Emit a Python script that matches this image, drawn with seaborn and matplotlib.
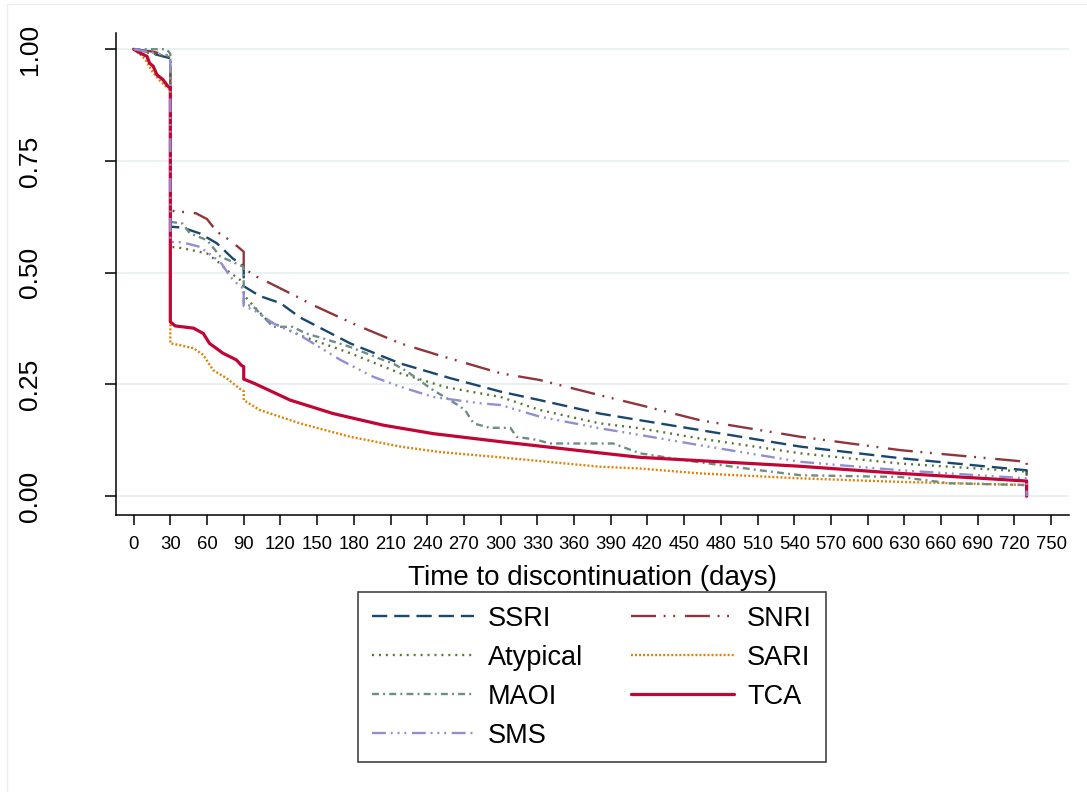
import matplotlib
matplotlib.use("Agg")
import matplotlib.pyplot as plt
from matplotlib.patches import Rectangle
import seaborn as sns
import pandas as pd

# ---------------- data ----------------
ssri_days = [0, 10, 16, 24, 30, 30, 40, 54, 68, 81, 90, 90, 103, 120, 136, 177, 218, 259, 300, 332, 381, 414, 463, 545, 627, 730, 730]
ssri_surv = [1.0, 0.995, 0.99, 0.984, 0.98, 0.603, 0.601, 0.588, 0.566, 0.532, 0.515, 0.47, 0.448, 0.432, 0.40, 0.342, 0.297, 0.264, 0.234, 0.215, 0.185, 0.17, 0.148, 0.111, 0.085, 0.058, 0.0]

snri_days = [0, 15, 30, 30, 51, 60, 68, 80, 90, 90, 103, 109, 136, 144, 182, 218, 250, 300, 332, 381, 414, 463, 545, 627, 730, 730]
snri_surv = [1.0, 0.995, 0.985, 0.639, 0.633, 0.62, 0.592, 0.57, 0.547, 0.51, 0.487, 0.48, 0.443, 0.431, 0.383, 0.342, 0.315, 0.275, 0.26, 0.226, 0.204, 0.17, 0.133, 0.103, 0.077, 0.0]

atyp_days = [0, 16, 30, 30, 40, 60, 71, 76, 87, 90, 90, 100, 109, 136, 177, 218, 255, 300, 332, 381, 414, 463, 545, 627, 730, 730]
atyp_surv = [1.0, 0.99, 0.982, 0.558, 0.555, 0.543, 0.52, 0.506, 0.484, 0.469, 0.45, 0.42, 0.394, 0.36, 0.32, 0.275, 0.244, 0.222, 0.193, 0.163, 0.152, 0.129, 0.096, 0.073, 0.055, 0.0]

sari_days = [0, 5, 10, 15, 22, 28, 30, 30, 38, 49, 57, 65, 76, 87, 90, 90, 103, 136, 177, 218, 250, 300, 381, 414, 463, 545, 627, 730, 730]
sari_surv = [1.0, 0.99, 0.975, 0.951, 0.928, 0.913, 0.91, 0.342, 0.338, 0.331, 0.316, 0.282, 0.264, 0.24, 0.235, 0.215, 0.193, 0.163, 0.133, 0.111, 0.099, 0.087, 0.066, 0.062, 0.051, 0.04, 0.032, 0.025, 0.0]

maoi_days = [0, 27, 30, 30, 40, 46, 60, 71, 87, 90, 90, 98, 114, 130, 141, 155, 177, 201, 212, 223, 245, 261, 271, 275, 278, 291, 308, 313, 330, 340, 392, 403, 414, 449, 512, 545, 627, 667, 730, 730]
maoi_surv = [1.0, 1.0, 0.99, 0.614, 0.61, 0.588, 0.573, 0.536, 0.517, 0.513, 0.43, 0.424, 0.379, 0.379, 0.364, 0.353, 0.334, 0.308, 0.297, 0.28, 0.237, 0.211, 0.193, 0.175, 0.163, 0.153, 0.153, 0.133, 0.126, 0.118, 0.118, 0.107, 0.096, 0.081, 0.058, 0.047, 0.043, 0.029, 0.025, 0.0]

tca_days = [0, 5, 11, 13, 16, 19, 24, 28, 30, 30, 34, 49, 57, 62, 73, 84, 88, 90, 90, 99, 128, 163, 204, 245, 300, 381, 414, 545, 627, 730, 730]
tca_surv = [1.0, 0.992, 0.984, 0.969, 0.962, 0.943, 0.932, 0.917, 0.915, 0.39, 0.381, 0.376, 0.364, 0.342, 0.32, 0.305, 0.293, 0.29, 0.262, 0.252, 0.215, 0.185, 0.159, 0.14, 0.122, 0.097, 0.087, 0.067, 0.051, 0.034, 0.0]

sms_days = [0, 10, 20, 30, 30, 40, 54, 65, 72, 79, 87, 90, 90, 98, 114, 136, 169, 196, 218, 245, 283, 300, 332, 381, 414, 463, 545, 627, 730, 730]
sms_surv = [1.0, 0.995, 0.99, 0.985, 0.569, 0.568, 0.558, 0.536, 0.52, 0.491, 0.469, 0.465, 0.425, 0.417, 0.387, 0.36, 0.305, 0.267, 0.245, 0.222, 0.208, 0.204, 0.178, 0.152, 0.137, 0.114, 0.077, 0.058, 0.04, 0.0]

x_ticks = list(range(0, 751, 30))
y_ticks = [0.0, 0.25, 0.5, 0.75, 1.0]
y_labels = ["0.00", "0.25", "0.50", "0.75", "1.00"]
x_title = "Time to discontinuation (days)"

# draw order (Stata order), legend order handled separately
series = [
    ("SSRI", ssri_days, ssri_surv, "#1a476f", (0, (11, 5)), 1.7),
    ("SNRI", snri_days, snri_surv, "#90353b", (0, (18, 5.5, 1.4, 5.5, 1.4, 7)), 1.7),
    ("Atypical", atyp_days, atyp_surv, "#55752f", (0, (1.4, 3.6)), 1.7),
    ("SARI", sari_days, sari_surv, "#e37e00", (0, (1.4, 1.5)), 1.7),
    ("MAOI", maoi_days, maoi_surv, "#6e8e84", (0, (5, 3, 1.4, 3)), 1.7),
    ("TCA", tca_days, tca_surv, "#c10534", "-", 2.3),
    ("SMS", sms_days, sms_surv, "#938dd2", (0, (10, 3.5, 1.4, 3.5, 1.4, 3.5, 1.4, 4)), 1.7),
]
legend_order = ["SSRI", "Atypical", "MAOI", "SMS", "SNRI", "SARI", "TCA"]

# ---------------- plotting ----------------
sns.set_theme(style="white")
plt.rcParams["font.family"] = ["Liberation Sans", "DejaVu Sans"]
plt.rcParams["lines.scale_dashes"] = False
for k in ["text.color", "axes.labelcolor", "xtick.color", "ytick.color"]:
    plt.rcParams[k] = "black"

fig = plt.figure(figsize=(10.87, 7.92), dpi=100)
ax = fig.add_axes([116 / 1087, 1 - 515 / 792, (1068.6 - 116) / 1087, (515 - 32.7) / 792])

handles = {}
for name, d, s, col, ls, lw in series:
    df = pd.DataFrame({"day": d, "surv": s})
    sns.lineplot(data=df, x="day", y="surv", estimator=None, sort=False, ax=ax,
                 color=col, linestyle=ls, linewidth=lw, label=name, legend=False)
    handles[name] = ax.get_lines()[-1]

ax.set_xlim(-14.4, 764.3)
ax.set_ylim(-0.042, 1.037)
ax.set_xticks(x_ticks)
ax.set_xticklabels([str(t) for t in x_ticks], fontsize=13.3, color="black")
ax.set_yticks(y_ticks)
ax.set_yticklabels(y_labels, fontsize=19, rotation=90, va="center", color="black")
for t in y_ticks:
    ax.axhline(t, color="#e8f0f2", linewidth=1.3, zorder=0)
ax.grid(False)

for sp in ["top", "right"]:
    ax.spines[sp].set_visible(False)
for sp in ["left", "bottom"]:
    ax.spines[sp].set_color("black")
    ax.spines[sp].set_linewidth(1.1)
ax.tick_params(axis="y", direction="out", length=8, width=1.1, color="black", pad=45, left=True)
ax.tick_params(axis="x", direction="out", length=7.5, width=1.1, color="black", pad=7.5, bottom=True)

ax.set_xlabel(x_title, fontsize=20, labelpad=9, color="black")
ax.set_ylabel("")

leg = fig.legend([handles[n] for n in legend_order], legend_order, ncol=2,
                 loc="upper left", bbox_to_anchor=(358 / 1087, 1 - 592 / 792),
                 fontsize=19.5, frameon=True, fancybox=False, handlelength=3.8,
                 handletextpad=0.5, columnspacing=1.75, labelspacing=0.48,
                 borderpad=0.5, borderaxespad=0)
leg.get_frame().set_edgecolor("black")
leg.get_frame().set_linewidth(1.1)
for t in leg.get_texts():
    t.set_color("black")

fig.patches.append(Rectangle((7 / 1087, -0.05), 1.2, 1 - 4 / 792 + 0.05, transform=fig.transFigure,
                             fill=False, edgecolor="#ededed", linewidth=1))

fig.savefig("out.png", dpi=100)
